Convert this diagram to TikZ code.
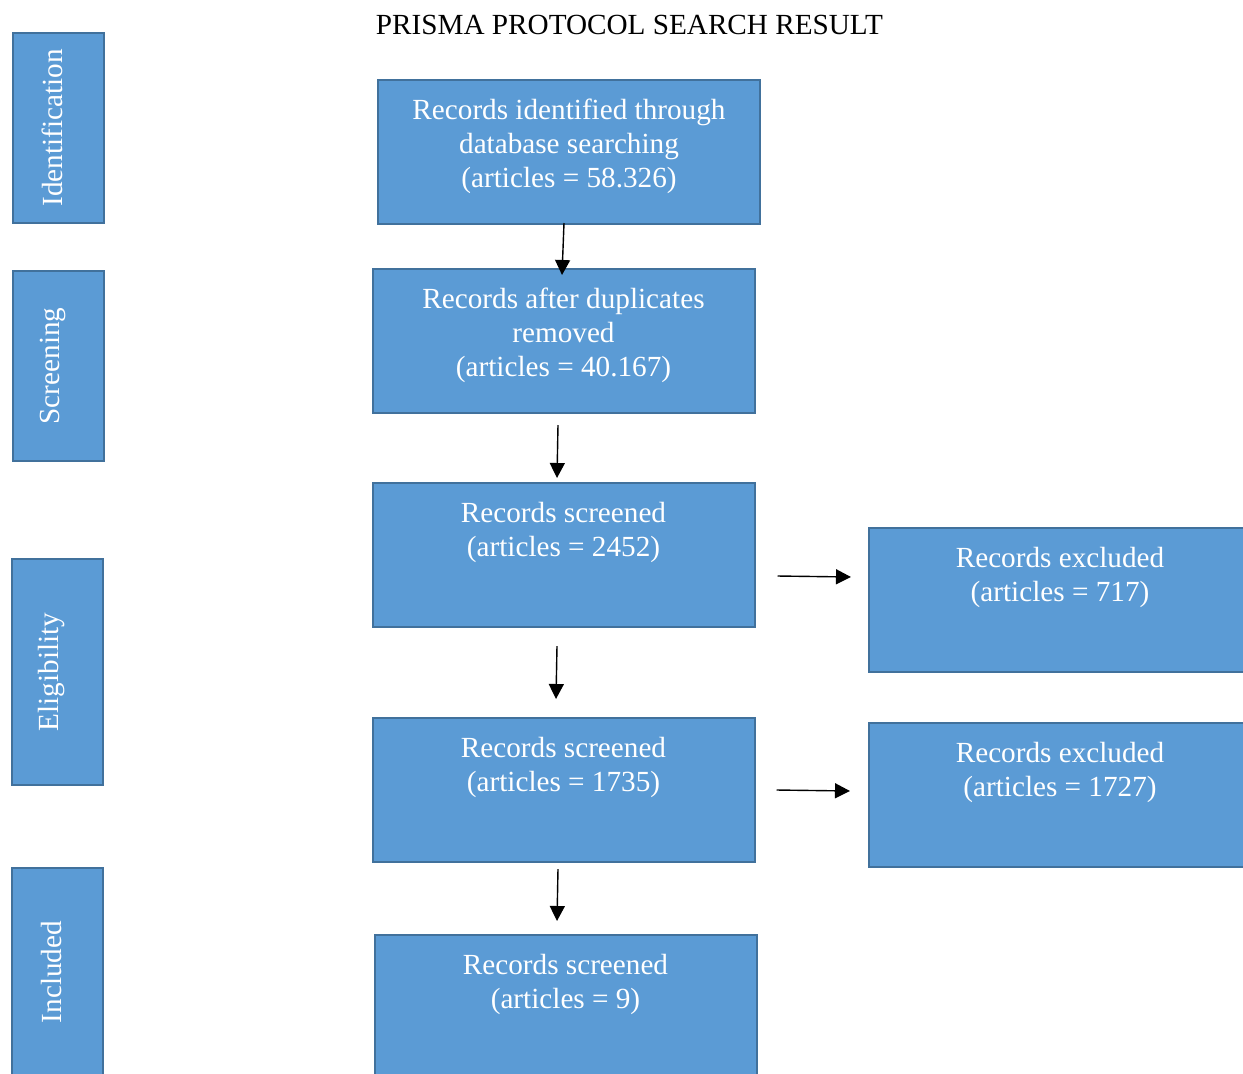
\documentclass[tikz,border=0pt]{standalone}
\usepackage{fontspec}
\setmainfont{Liberation Serif}
\usetikzlibrary{arrows.meta}

\definecolor{boxfill}{HTML}{5B9BD5}
\definecolor{boxline}{HTML}{41719C}

\tikzset{
  stage/.style={rectangle, draw=boxline, fill=boxfill, line width=1pt, minimum width=45.5pt},
  stagelabel/.style={rotate=90, text=white, inner sep=0pt, font=\fontsize{14.6}{17}\selectfont},
  record/.style={rectangle, draw=boxline, fill=boxfill, line width=1pt, minimum width=191pt, minimum height=72pt},
  recordtext/.style={anchor=north, align=center, text=white, inner sep=0pt, font=\fontsize{14.6}{17}\selectfont},
  flow/.style={-{Triangle[length=7.5pt, width=7.5pt]}, line width=0.7pt},
}

\begin{document}
\begin{tikzpicture}[x=0.5pt, y=-0.5pt]
  \path[use as bounding box, clip] (0,0) rectangle (1243,1073);

  % heading
  \node[anchor=base, inner sep=0pt, font=\fontsize{14.6}{17}\selectfont] (title) at (629.5,34)
        {PRISMA PROTOCOL SEARCH RESULT};

  % stages on the left
  \node[stage, minimum height=95pt] (ident) at (58.5,128) {};
  \node[stagelabel] (identlbl) at ([xshift=-3pt]ident.center) {Identification};
  \node[stage, minimum height=95pt] (screen) at (58.5,366) {};
  \node[stagelabel] (screenlbl) at ([xshift=-3pt]screen.center) {Screening};
  \node[stage, minimum height=113pt] (elig) at (57.5,672) {};
  \node[stagelabel] (eliglbl) at ([xshift=-3pt]elig.center) {Eligibility};
  \node[stage, minimum height=104pt] (incl) at (57.5,972) {};
  \node[stagelabel] (incllbl) at ([xshift=-3pt]incl.center) {Included};

  % main records
  \node[record] (found) at (569,152) {};
  \node[recordtext] (foundtxt) at ([yshift=-9.7pt]found.north)
        {Records identified through\\database searching\\(articles = 58.326)};

  \node[record] (dedup) at (563.5,341) {};
  \node[recordtext] (deduptxt) at ([yshift=-9.7pt]dedup.north)
        {Records after duplicates\\removed\\(articles = 40.167)};

  \node[record] (screened) at (563.5,555) {};
  \node[recordtext] (screenedtxt) at ([yshift=-9.7pt]screened.north)
        {Records screened\\(articles = 2452)};

  \node[record] (assessed) at (563.5,790) {};
  \node[recordtext] (assessedtxt) at ([yshift=-9.7pt]assessed.north)
        {Records screened\\(articles = 1735)};

  \node[record] (final) at (565.5,1007) {};
  \node[recordtext] (finaltxt) at ([yshift=-9.7pt]final.north)
        {Records screened\\(articles = 9)};

  % excluded records
  \node[record] (excla) at (1060,600) {};
  \node[recordtext] (exclatxt) at ([yshift=-9.7pt]excla.north)
        {Records excluded\\(articles = 717)};

  \node[record] (exclb) at (1060,795) {};
  \node[recordtext] (exclbtxt) at ([yshift=-9.7pt]exclb.north)
        {Records excluded\\(articles = 1727)};

  % arrows
  \draw[flow] ([xshift=-2.5pt, yshift=1pt]found.south) -- ([xshift=-0.75pt, yshift=-3.5pt]dedup.north);
  \draw[flow] ([xshift=-2.75pt, yshift=-5.5pt]dedup.south) -- ([xshift=-3.25pt, yshift=2pt]screened.north);
  \draw[flow] ([xshift=-3.25pt, yshift=-9pt]screened.south) -- ([xshift=-3.75pt, yshift=9pt]assessed.north);
  \draw[flow] ([xshift=-2.75pt, yshift=-3pt]assessed.south) -- ([xshift=-4.25pt, yshift=6.5pt]final.north);
  \draw[flow] ([xshift=11pt, yshift=-10.5pt]screened.east) -- ([xshift=-8.5pt, yshift=11.5pt]excla.west);
  \draw[flow] ([xshift=10.5pt]assessed.east) -- ([xshift=-9pt, yshift=2pt]exclb.west);
\end{tikzpicture}
\end{document}
